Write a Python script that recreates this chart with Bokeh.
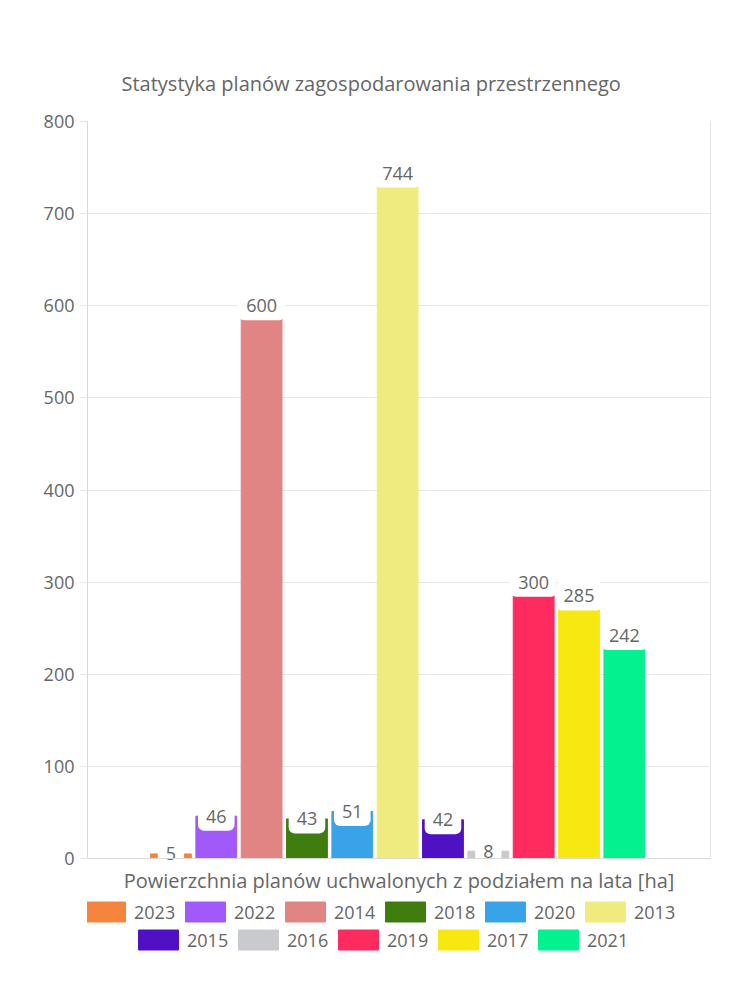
from bokeh.plotting import figure
from bokeh.models import (ColumnDataSource, Legend, LegendItem, Range1d,
                          FixedTicker, LinearAxis)
from bokeh.core.properties import value
from bokeh.embed import file_html
from bokeh.resources import INLINE

years = ["2023", "2022", "2014", "2018", "2020", "2013",
         "2015", "2016", "2019", "2017", "2021"]
areas = [5, 46, 600, 43, 51, 744, 42, 8, 300, 285, 242]
colors = ["#F5843F", "#A259FA", "#E08484", "#3F7D0F", "#38A3E8", "#F0EB7F",
          "#5010C4", "#C9CACD", "#FF2A5E", "#F8E811", "#03F18E"]
y_ticks = [0, 100, 200, 300, 400, 500, 600, 700, 800]

title_text = "Statystyka planów zagospodarowania przestrzennego"
x_label = "Powierzchnia planów uchwalonych z podziałem na lata [ha]"

FONT = "Open Sans"
GRAY = "#666666"
AXIS = "#d9d9d9"
GRID = "#e6e6e6"

pos = list(range(len(years)))  # slot of each series inside the single group
Y_MAX = 800

p = figure(frame_width=623, frame_height=839, output_backend="svg",
           toolbar_location=None,
           x_range=Range1d(-1.84, len(years) - 1 + 1.9),
           y_range=Range1d(-110.7, Y_MAX),
           min_border_left=87, min_border_right=40, min_border_top=121,
           min_border_bottom=0)

p.title.text = title_text
p.title.align = "left"
p.title.offset = 34
p.title.text_font = FONT
p.title.text_font_size = "20px"
p.title.text_font_style = "normal"
p.title.text_color = GRAY
p.title.standoff = 50

items = []
for x, yr, a, c in zip(pos, years, areas, colors):
    r = p.vbar(x=[x], top=[a], width=0.9, color=c, line_color=c)
    items.append(LegendItem(label=yr, renderers=[r]))

src = ColumnDataSource(dict(x=pos, y=areas, t=[str(a) for a in areas]))
p.text(x="x", y="y", text="t", source=src, text_font=value(FONT),
       text_font_size=value("18px"), text_color=GRAY, text_align="center",
       text_baseline="middle", background_fill_color="white",
       border_radius=6, padding=8)

p.yaxis.ticker = y_ticks
p.yaxis.bounds = (0, Y_MAX)
p.yaxis.major_label_text_font = FONT
p.yaxis.major_label_text_font_size = "18px"
p.yaxis.major_label_text_color = GRAY
p.yaxis.axis_line_color = AXIS
p.yaxis.major_tick_line_color = GRID
p.yaxis.major_tick_in = 0
p.yaxis.major_tick_out = 8
p.yaxis.minor_tick_line_color = None
p.yaxis.major_label_standoff = 5

right_axis = LinearAxis(ticker=FixedTicker(ticks=[]), bounds=(0, Y_MAX),
                        axis_line_color=GRID, major_tick_line_color=None,
                        minor_tick_line_color=None)
p.add_layout(right_axis, "right")

p.xaxis.fixed_location = 0
p.xaxis.ticker = FixedTicker(ticks=[])
p.xaxis.major_tick_line_color = None
p.xaxis.minor_tick_line_color = None
p.xaxis.axis_line_color = AXIS
p.xaxis.axis_label = x_label
p.xaxis.axis_label_text_font = FONT
p.xaxis.axis_label_text_font_size = "20px"
p.xaxis.axis_label_text_font_style = "normal"
p.xaxis.axis_label_text_color = GRAY
p.xaxis.axis_label_standoff = 8
p.xaxis.major_label_standoff = 0

p.xgrid.grid_line_color = None
p.ygrid.grid_line_color = GRID
p.outline_line_color = None

for chunk, loc in ((items[:6], (-7, 36)), (items[6:], (46, 8))):
    lg = Legend(items=chunk, orientation="horizontal", location=loc,
                glyph_width=50, glyph_height=25, label_standoff=4, spacing=4,
                label_width=42, padding=0, margin=0, border_line_color=None,
                background_fill_alpha=0, label_text_font=FONT,
                label_text_font_size="18px", label_text_color=GRAY)
    p.add_layout(lg, "center")

open("out.html", "w").write(file_html(p, INLINE))
